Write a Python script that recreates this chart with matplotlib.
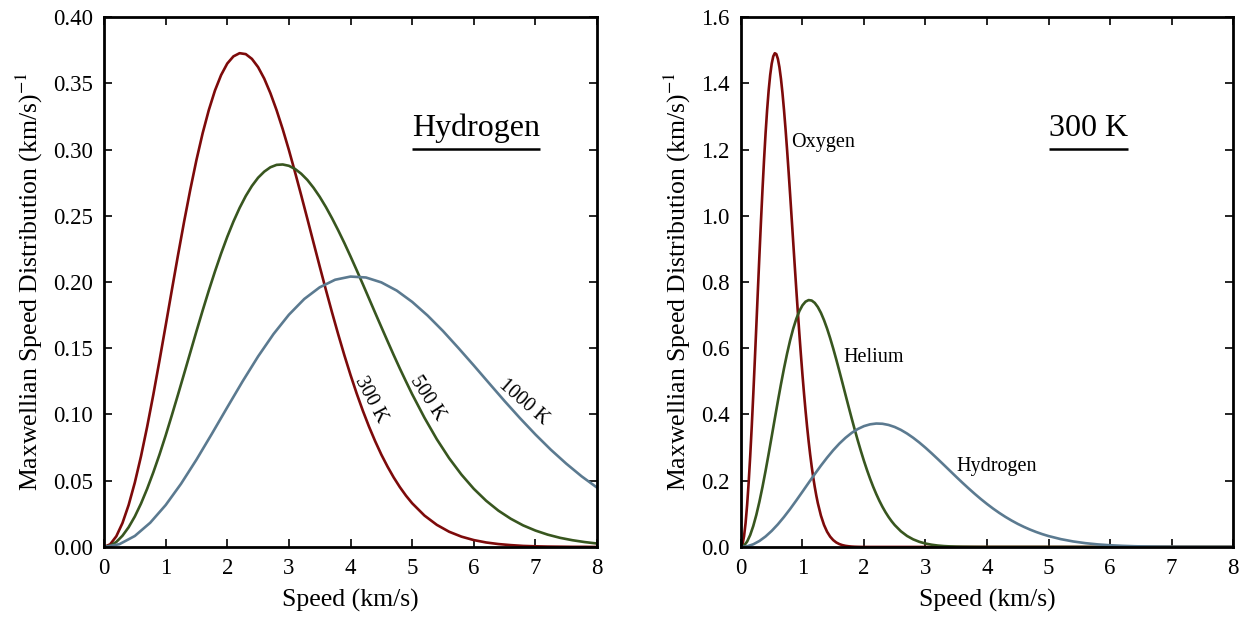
"""Maxwellian speed distributions: hydrogen at three temperatures (left) and
three gases at 300 K (right)."""
import numpy as np
import matplotlib.pyplot as plt

plt.rcParams['font.family'] = ['Liberation Serif', 'DejaVu Serif']
plt.rcParams['mathtext.fontset'] = 'stix'

RED = '#7d0a0a'
GREEN = '#38561f'
BLUE = '#5b7a90'

# speed grids (km/s): finer where the curves bend the most
v_h = np.r_[np.linspace(0, 5, 51), np.linspace(5.2, 8, 15)]
v_h1000 = np.linspace(0, 8, 33)
v_he = np.r_[np.linspace(0, 2.5, 51), np.linspace(2.6, 4, 15), 8.0]
v_o = np.r_[np.linspace(0, 1.25, 51), np.linspace(1.3, 2, 15), 8.0]

# hydrogen, distribution in (km/s)^-1
h_300 = [0.0, 0.0020, 0.0081, 0.0181, 0.0317, 0.0486, 0.0684, 0.0907, 0.1149,
         0.1406, 0.1670, 0.1937, 0.2201, 0.2456, 0.2697, 0.2921, 0.3122, 0.3297,
         0.3445, 0.3562, 0.3649, 0.3703, 0.3727, 0.3720, 0.3684, 0.3622, 0.3535,
         0.3425, 0.3297, 0.3153, 0.2996, 0.2828, 0.2654, 0.2476, 0.2296, 0.2117,
         0.1941, 0.1770, 0.1605, 0.1447, 0.1298, 0.1158, 0.1028, 0.0908, 0.0798,
         0.0697, 0.0607, 0.0525, 0.0452, 0.0387, 0.0330,
         0.0237, 0.0167, 0.0115, 0.0078, 0.0052, 0.0034, 0.0022, 0.0014, 0.0008,
         0.0005, 0.0003, 0.0002, 0.0001, 0.0001, 0.0]
h_500 = [0.0, 0.0009, 0.0038, 0.0085, 0.0149, 0.0230, 0.0327, 0.0439, 0.0563,
         0.0697, 0.0841, 0.0993, 0.1149, 0.1308, 0.1468, 0.1628, 0.1784, 0.1935,
         0.2079, 0.2215, 0.2341, 0.2456, 0.2559, 0.2649, 0.2725, 0.2787, 0.2833,
         0.2866, 0.2884, 0.2887, 0.2877, 0.2853, 0.2817, 0.2770, 0.2711, 0.2643,
         0.2566, 0.2481, 0.2390, 0.2294, 0.2193, 0.2089, 0.1983, 0.1875, 0.1767,
         0.1660, 0.1554, 0.1449, 0.1347, 0.1249, 0.1153,
         0.0975, 0.0813, 0.0670, 0.0546, 0.0439, 0.0349, 0.0274, 0.0213, 0.0163,
         0.0124, 0.0093, 0.0069, 0.0051, 0.0037, 0.0026]
h_1000 = [0.0, 0.0021, 0.0083, 0.0183, 0.0316, 0.0477, 0.0659, 0.0854, 0.1054,
          0.1251, 0.1438, 0.1607, 0.1753, 0.1872, 0.1960, 0.2017, 0.2041, 0.2034,
          0.1997, 0.1935, 0.1850, 0.1747, 0.1630, 0.1502, 0.1370, 0.1235, 0.1101,
          0.0972, 0.0849, 0.0734, 0.0629, 0.0533, 0.0448]

# helium and oxygen at 300 K
he_300 = [0.0, 0.0041, 0.0162, 0.0361, 0.0633, 0.0971, 0.1368, 0.1814, 0.2299,
          0.2811, 0.3340, 0.3874, 0.4402, 0.4912, 0.5395, 0.5841, 0.6244, 0.6595,
          0.6889, 0.7124, 0.7297, 0.7407, 0.7454, 0.7440, 0.7369, 0.7243, 0.7069,
          0.6850, 0.6594, 0.6305, 0.5991, 0.5657, 0.5308, 0.4952, 0.4592, 0.4234,
          0.3882, 0.3540, 0.3209, 0.2895, 0.2596, 0.2317, 0.2057, 0.1816, 0.1596,
          0.1395, 0.1213, 0.1050, 0.0904, 0.0775, 0.0661,
          0.0474, 0.0333, 0.0230, 0.0156, 0.0104, 0.0068, 0.0043, 0.0027, 0.0017,
          0.0010, 0.0006, 0.0004, 0.0002, 0.0001, 0.0001, 0.0]
o_300 = [0.0, 0.0082, 0.0324, 0.0722, 0.1266, 0.1943, 0.2736, 0.3628, 0.4598,
         0.5623, 0.6681, 0.7749, 0.8804, 0.9824, 1.0790, 1.1683, 1.2487, 1.3189,
         1.3779, 1.4249, 1.4594, 1.4813, 1.4907, 1.4880, 1.4738, 1.4487, 1.4138,
         1.3701, 1.3187, 1.2611, 1.1982, 1.1313, 1.0617, 0.9904, 0.9185, 0.8469,
         0.7764, 0.7079, 0.6418, 0.5789, 0.5192, 0.4634, 0.4113, 0.3632, 0.3192,
         0.2790, 0.2426, 0.2100, 0.1809, 0.1550, 0.1321,
         0.0947, 0.0666, 0.0460, 0.0312, 0.0207, 0.0135, 0.0087, 0.0055, 0.0034,
         0.0021, 0.0012, 0.0007, 0.0004, 0.0002, 0.0001, 0.0]

LW = 1.9
TICK_FS = 16.5
LABEL_FS = 18.5
CURVE_FS = 14.5
TITLE_FS = 23

fig = plt.figure(figsize=(12.47, 6.21), dpi=100)
axL = fig.add_axes([0.0834, 0.1192, 0.3954, 0.8534])
axR = fig.add_axes([0.5942, 0.1192, 0.3946, 0.8534])

axL.plot(v_h, h_300, color=RED, lw=LW)
axL.plot(v_h, h_500, color=GREEN, lw=LW)
axL.plot(v_h1000, h_1000, color=BLUE, lw=LW)
axL.set_ylim(0, 0.40)
yt = np.arange(0, 0.401, 0.05)
axL.set_yticks(yt)
axL.set_yticklabels([f'{t:.2f}' for t in yt])

axL.text(4.32, 0.111, '300 K', rotation=-62, fontsize=CURVE_FS,
         ha='center', va='center', rotation_mode='anchor')
axL.text(5.24, 0.112, '500 K', rotation=-57, fontsize=CURVE_FS,
         ha='center', va='center', rotation_mode='anchor')
axL.text(6.80, 0.109, '1000 K', rotation=-41, fontsize=CURVE_FS,
         ha='center', va='center', rotation_mode='anchor')

axR.plot(v_o, o_300, color=RED, lw=LW)
axR.plot(v_he, he_300, color=GREEN, lw=LW)
axR.plot(v_h, h_300, color=BLUE, lw=LW)
axR.set_ylim(0, 1.6)
yt = np.arange(0, 1.61, 0.2)
axR.set_yticks(yt)
axR.set_yticklabels([f'{t:.1f}' for t in yt])

axR.text(0.81, 1.22, 'Oxygen', fontsize=CURVE_FS, ha='left', va='center')
axR.text(1.66, 0.571, 'Helium', fontsize=CURVE_FS, ha='left', va='center')
axR.text(3.51, 0.242, 'Hydrogen', fontsize=CURVE_FS, ha='left', va='center')

title_texts = []
for ax, label, xc in [(axL, 'Hydrogen', 0.755), (axR, '300 K', 0.707)]:
    t = ax.text(xc, 0.776, label, transform=ax.transAxes, fontsize=TITLE_FS,
                ha='center', va='baseline')
    title_texts.append((ax, t))

for ax in (axL, axR):
    ax.set_xlim(0, 8)
    ax.set_xticks(range(0, 9))
    ax.set_xlabel('Speed (km/s)', fontsize=LABEL_FS, labelpad=7)
    ax.set_ylabel(r'Maxwellian Speed Distribution (km/s)$^{-1}$',
                  fontsize=LABEL_FS, labelpad=6)
    ax.tick_params(direction='in', length=6, width=1.2, top=True, right=True,
                   labelsize=TICK_FS, pad=8)
    for s in ax.spines.values():
        s.set_linewidth(2.0)

# underline the panel titles, a fixed distance below the baseline
fig.canvas.draw()
for ax, t in title_texts:
    bb = t.get_window_extent().transformed(ax.transAxes.inverted())
    ax.plot([bb.x0, bb.x1], [0.7515, 0.7515], color='black', lw=1.8,
            transform=ax.transAxes, solid_capstyle='butt')

fig.savefig('out.png', dpi=100)
